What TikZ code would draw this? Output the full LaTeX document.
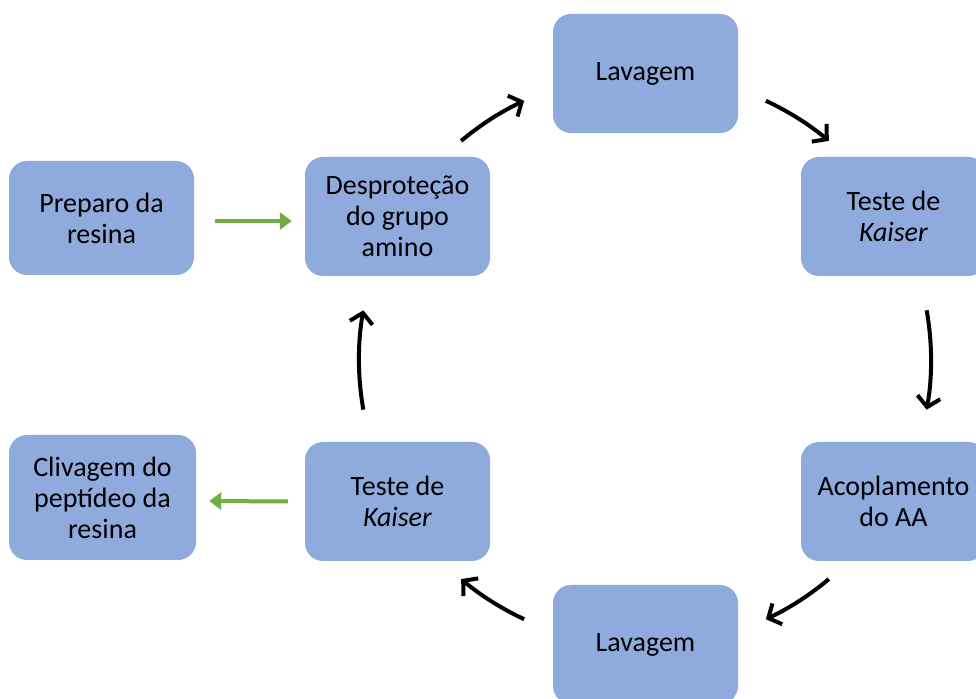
\documentclass[tikz,border=0pt]{standalone}
\usepackage{fontspec}
\setmainfont{Carlito}
\usetikzlibrary{arrows.meta}
\definecolor{boxblue}{HTML}{8FAADC}
\definecolor{arrgreen}{HTML}{70AD47}
\begin{document}
\begin{tikzpicture}[x=1pt,y=1pt,
  stepbox/.style={rounded corners=18pt, fill=boxblue, draw=none, inner sep=0pt,
    minimum width=185pt, minimum height=119pt, align=center,
    font=\fontsize{28}{31}\selectfont, text=black},
  cyc/.style={line width=4pt, -{Straight Barb[length=10pt,width=23pt,line width=4pt]}},
  grn/.style={draw=arrgreen, line width=4pt, -{Triangle[length=12pt,width=17pt]}, arrgreen}
]
\clip (0,0) rectangle (976,698);
\fill[white] (0,0) rectangle (976,698);
\node[stepbox, minimum height=114pt] (prep) at (101.5,480) {Preparo da\\resina};
\node[stepbox] (desp) at (397.5,481.5) {Desproteção\\do grupo\\amino};
\node[stepbox] (lavt) at (645.5,624.5) {Lavagem};
\node[stepbox] (kr) at (893.5,481.5) {Teste de\\\textit{Kaiser}};
\node[stepbox] (acop) at (893.5,196.5) {Acoplamento\\do AA};
\node[stepbox] (lavb) at (645.5,53.5) {Lavagem};
\node[stepbox] (kl) at (397.5,196.5) {Teste de\\\textit{Kaiser}};
\node[stepbox, minimum width=187pt, minimum height=125pt] (cliv) at (102.5,200.5) {Clivagem do\\peptídeo da\\resina};
\coordinate (C) at (645,338);
\draw[grn] ([xshift=21pt,yshift=-3pt]prep.east) -- ([xshift=-13pt,yshift=-4.5pt]desp.west);
\draw[grn] ([xshift=-17pt]kl.west) -- ([xshift=13pt,yshift=-3.5pt]cliv.east);
\draw[cyc] ([shift={(130:286)}]C) arc[start angle=130,end angle=115,radius=286];
\draw[cyc] ([shift={(65:286)}]C) arc[start angle=65,end angle=50,radius=286];
\draw[cyc] ([shift={(10:286)}]C) arc[start angle=10,end angle=-10,radius=286];
\draw[cyc] ([shift={(-50:286)}]C) arc[start angle=-50,end angle=-65,radius=286];
\draw[cyc] ([shift={(-115:286)}]C) arc[start angle=-115,end angle=-130,radius=286];
\draw[cyc] ([shift={(190:286)}]C) arc[start angle=190,end angle=170,radius=286];
\end{tikzpicture}
\end{document}
